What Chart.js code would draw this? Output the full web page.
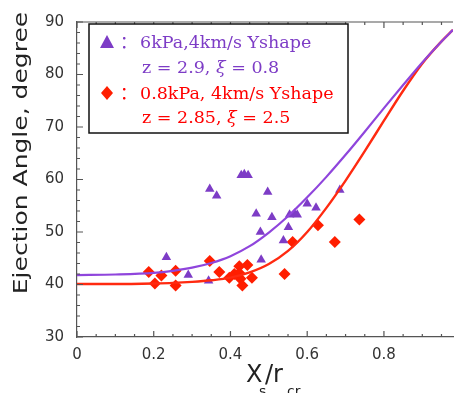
<!DOCTYPE html>
<html>
<head>
<meta charset="utf-8">
<script src="https://cdn.jsdelivr.net/npm/chart.js@4/dist/chart.umd.min.js"></script>
<style>
  html, body { margin: 0; padding: 0; background: #fff; }
  #wrap { width: 459px; height: 393px; }
</style>
</head>
<body>
<div id="wrap"><canvas id="chart" width="459" height="393"></canvas></div>
<script>
// axis ticks
const xTicks = [0, 0.2, 0.4, 0.6, 0.8];
const yTicks = [30, 40, 50, 60, 70, 80, 90];

// 6kPa, 4km/s measurements (triangles)
const purpleX = [0.233, 0.29, 0.343, 0.346, 0.364, 0.428, 0.436, 0.446, 0.467, 0.497, 0.508, 0.478, 0.48, 0.538, 0.551, 0.554, 0.567, 0.574, 0.60, 0.623, 0.685];
const purpleY = [45.2, 41.8, 40.7, 58.2, 56.9, 60.8, 61.0, 60.8, 53.5, 57.6, 52.8, 50.0, 44.7, 48.4, 50.9, 53.3, 53.5, 53.3, 55.4, 54.6, 58.0];

// 0.8kPa, 4km/s measurements (diamonds)
const redX = [0.187, 0.203, 0.22, 0.257, 0.257, 0.346, 0.371, 0.397, 0.41, 0.423, 0.423, 0.426, 0.431, 0.444, 0.456, 0.541, 0.562, 0.628, 0.672, 0.736];
const redY = [42.4, 40.2, 41.7, 42.6, 39.8, 44.5, 42.4, 41.3, 42.0, 43.5, 42.2, 41.1, 39.8, 43.7, 41.3, 42.0, 48.1, 51.3, 48.1, 52.4];

// fitted curves
const curveX = [0, 0.1, 0.2, 0.25, 0.3, 0.35, 0.4, 0.45, 0.5, 0.55, 0.6, 0.65, 0.7, 0.75, 0.8, 0.85, 0.9, 0.95, 0.98];
const purpleCurve = [41.8, 41.9, 42.2, 42.6, 43.2, 44.1, 45.4, 47.3, 49.9, 53.0, 56.6, 60.5, 64.7, 69.1, 73.6, 78.0, 82.3, 86.3, 88.5];
const redCurve = [40.1, 40.1, 40.2, 40.3, 40.5, 40.8, 41.3, 42.3, 43.9, 46.4, 50.0, 54.6, 59.8, 65.4, 71.2, 76.9, 82.1, 86.3, 88.5];

const toPoints = (xs, ys) => xs.map((x, i) => ({ x: x, y: ys[i] }));

const PURPLE = '#7d3cc6';
const PURPLE_LINE = '#8f45dc';
const RED = '#ff1e00';
const RED_LINE = '#ff2a10';
const AXIS = '#555';

// inward ticks, top frame line, axis titles and the legend box
const framePlugin = {
    id: 'frame',
    afterDraw(chart) {
        const { ctx, chartArea: a, scales: { x, y } } = chart;
        ctx.save();
        ctx.strokeStyle = AXIS;
        ctx.lineWidth = 1.2;

        ctx.beginPath();
        ctx.moveTo(a.left, a.top);
        ctx.lineTo(a.right, a.top);
        ctx.stroke();

        ctx.beginPath();
        for (let i = 0; i <= 19; i++) {
            const px = x.getPixelForValue(i * 0.05);
            const len = i % 4 === 0 ? 6 : 3;
            ctx.moveTo(px, a.bottom);
            ctx.lineTo(px, a.bottom - len);
            ctx.moveTo(px, a.top);
            ctx.lineTo(px, a.top + len);
        }
        for (let i = 0; i <= 30; i++) {
            const py = y.getPixelForValue(30 + i * 2);
            const len = i % 5 === 0 ? 6 : 3;
            ctx.moveTo(a.left, py);
            ctx.lineTo(a.left + len, py);
        }
        ctx.stroke();

        // y axis title (the source is stretched along its length)
        ctx.save();
        ctx.fillStyle = '#222';
        ctx.font = '20px "DejaVu Sans"';
        ctx.textAlign = 'center';
        ctx.textBaseline = 'alphabetic';
        ctx.translate(27, 153);
        ctx.rotate(-Math.PI / 2);
        ctx.scale(1.25, 1);
        ctx.fillText('Ejection Angle, degree', 0, 0);
        ctx.restore();

        // x axis title with subscripts
        ctx.fillStyle = '#222';
        ctx.textBaseline = 'alphabetic';
        ctx.font = '24px "DejaVu Sans"';
        ctx.fillText('X', 246, 382);
        ctx.fillText('/r', 265, 382);
        ctx.font = '14px "DejaVu Sans"';
        ctx.fillText('s', 259, 396);
        ctx.fillText('cr', 287, 396);

        // legend
        ctx.fillStyle = '#fff';
        ctx.fillRect(89, 24, 259, 109);
        ctx.strokeStyle = '#111';
        ctx.lineWidth = 1.5;
        ctx.strokeRect(89, 24, 259, 109);

        ctx.fillStyle = PURPLE;
        ctx.beginPath();
        ctx.moveTo(107, 35);
        ctx.lineTo(114, 48);
        ctx.lineTo(100, 48);
        ctx.closePath();
        ctx.fill();

        ctx.fillStyle = RED;
        ctx.beginPath();
        ctx.moveTo(107, 86);
        ctx.lineTo(113, 93);
        ctx.lineTo(107, 100);
        ctx.lineTo(101, 93);
        ctx.closePath();
        ctx.fill();

        const serif = '17.5px "DejaVu Serif", "Noto Sans CJK SC"';
        const serifItalic = 'italic 17.5px "DejaVu Serif"';
        const cjk = '17px "Noto Sans CJK SC"';

        const writeLine = (parts, x0, base, color) => {
            ctx.fillStyle = color;
            let cx = x0;
            parts.forEach(p => {
                ctx.font = p[1];
                ctx.fillText(p[0], cx, base);
                cx += ctx.measureText(p[0]).width;
            });
        };

        writeLine([['：', cjk]], 120, 48, PURPLE);
        writeLine([['6kPa,4km/s Yshape', serif]], 140, 48, PURPLE);
        writeLine([['z = 2.9, ', serif], ['ξ', serifItalic], [' = 0.8', serif]], 142, 73, PURPLE);
        writeLine([['：', cjk]], 120, 99, '#ff0000');
        writeLine([['0.8kPa, 4km/s Yshape', serif]], 140, 99, '#ff0000');
        writeLine([['z = 2.85, ', serif], ['ξ', serifItalic], [' = 2.5', serif]], 142, 123, '#ff0000');

        ctx.restore();
    }
};

const ctx = document.getElementById('chart').getContext('2d');
new Chart(ctx, {
    type: 'scatter',
    data: {
        datasets: [{
            type: 'line',
            label: 'purple fit',
            data: toPoints(curveX, purpleCurve),
            borderColor: PURPLE_LINE,
            borderWidth: 2.2,
            pointRadius: 0,
            fill: false,
            cubicInterpolationMode: 'monotone'
        }, {
            type: 'line',
            label: 'red fit',
            data: toPoints(curveX, redCurve),
            borderColor: RED_LINE,
            borderWidth: 2.4,
            pointRadius: 0,
            fill: false,
            cubicInterpolationMode: 'monotone'
        }, {
            label: '6kPa,4km/s Yshape',
            data: toPoints(purpleX, purpleY),
            pointStyle: 'triangle',
            pointRadius: 5.5,
            backgroundColor: PURPLE,
            borderColor: PURPLE,
            borderWidth: 0
        }, {
            label: '0.8kPa, 4km/s Yshape',
            data: toPoints(redX, redY),
            pointStyle: 'rectRot',
            pointRadius: 6,
            backgroundColor: RED,
            borderColor: RED,
            borderWidth: 0
        }]
    },
    options: {
        responsive: false,
        animation: false,
        layout: { padding: { top: 18, right: 0, left: 0, bottom: 0 } },
        plugins: {
            legend: { display: false },
            tooltip: { enabled: false }
        },
        scales: {
            x: {
                type: 'linear',
                min: 0,
                max: 0.98,
                afterBuildTicks: s => { s.ticks = xTicks.map(v => ({ value: v })); },
                afterFit: s => { s.height = 56; },
                grid: { display: false, drawTicks: false },
                border: { display: true, color: AXIS, width: 1.2 },
                ticks: {
                    padding: 9,
                    color: '#333',
                    font: { family: 'DejaVu Sans', size: 15 },
                    maxRotation: 0,
                    callback: v => String(v)
                }
            },
            y: {
                type: 'linear',
                min: 30,
                max: 90,
                afterBuildTicks: s => { s.ticks = yTicks.map(v => ({ value: v })); },
                afterFit: s => { s.width = 77; },
                grid: { display: false, drawTicks: false },
                border: { display: true, color: AXIS, width: 1.2 },
                ticks: {
                    padding: 13,
                    color: '#333',
                    font: { family: 'DejaVu Sans', size: 15 }
                }
            }
        }
    },
    plugins: [framePlugin]
});
</script>
</body>
</html>
